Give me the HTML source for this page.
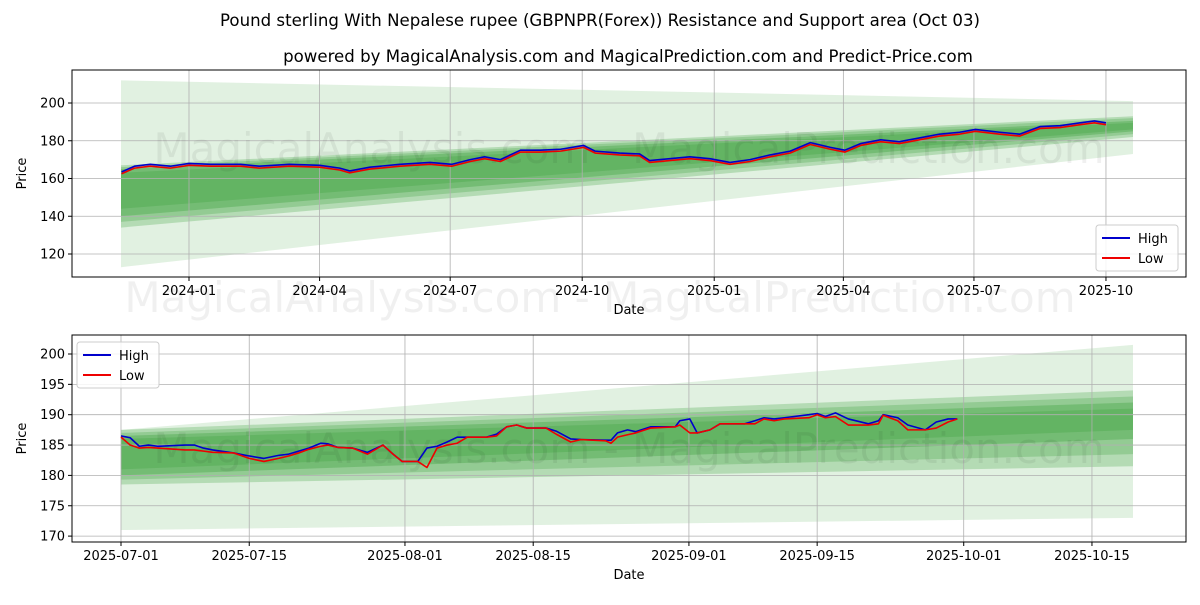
<!DOCTYPE html>
<html><head><meta charset="utf-8"><style>
body{margin:0;background:#fff;font-family:"Liberation Sans","DejaVu Sans",sans-serif;}
svg text{font-family:"DejaVu Sans","Liberation Sans",sans-serif;}
</style></head><body>
<svg id="c" width="1200" height="600" xmlns="http://www.w3.org/2000/svg">
<text x="600" y="26" text-anchor="middle" font-size="16.6">Pound sterling With Nepalese rupee (GBPNPR(Forex)) Resistance and Support area (Oct 03)</text>
<text x="628" y="62" text-anchor="middle" font-size="16.6">powered by MagicalAnalysis.com and MagicalPrediction.com and Predict-Price.com</text>
</svg>
<script>
// ---- Top chart data (days from 2024-01-01) ----
const topDays=[-47,-38,-27,-13,0,15,36,49,70,91,105,112,126,147,168,183,196,206,217,231,245,259,275,283,300,314,321,335,349,363,377,391,405,419,433,447,457,468,482,495,509,523,537,548,565,579,593,607,621,631,639];
const topHigh=[163.5,166.5,167.5,166.5,168,167.5,167.5,166.5,167.5,167,165.5,164,166,167.5,168.5,167.5,170,171.5,170,175,175,175.5,177.5,174.5,173.5,173,169.5,170.5,171.5,170.5,168.5,170,172.5,174.5,179,176.5,175,178.5,180.5,179.5,181.5,183.5,184.5,186,184.5,183.5,187.5,188,189.5,190.5,189.5];
const topLow=[162.5,165.5,166.5,165.5,167,166.5,166.5,165.5,166.5,166,164.5,163,165,166.5,167.5,166.5,169,170.5,169,174,174,174.5,176.5,173.5,172.5,172,168.5,169.5,170.5,169.5,167.5,169,171.5,173.5,178,175.5,174,177.5,179.5,178.5,180.5,182.5,183.5,185,183.5,182.5,186.5,187,188.5,189.5,188.5];
const topTicks=["2024-01","2024-04","2024-07","2024-10","2025-01","2025-04","2025-07","2025-10"];
const topTickDays=[0,91,182,274,366,456,547,639];
const topYTicks=[120,140,160,180,200];
// bands: [leftLow,leftHigh,rightLow,rightHigh,opacity]
const topBands=[[113,212,173,201,0.14],[134,167,182,193,0.25],[137,166,183.5,192,0.25],[140,165,185,190.5,0.3],[144,163,186,189.5,0.25]];
// ---- Bottom chart data (days from 2025-07-01) ----
const botDays=[0,1,2,3,4,7,8,9,10,12.3,14,15.6,17.2,18.3,19.4,20.5,21.8,22.6,23.7,25.3,26.9,28.6,29.7,30.7,32.4,33.4,34.5,35.6,36.7,37.8,39.9,41,42.1,43.2,44.3,46.4,47.5,49.1,50.2,52.9,53.5,54.2,55.3,56.2,57.8,60.5,61,62.1,62.9,64.3,65.4,68.1,69.2,70.2,71.3,72.4,75.1,76,76.9,78,79.4,81.6,82.7,83.2,84.8,85.9,87.8,89,90.3,91.3];
const botHigh=[186.5,186.2,184.8,185,184.8,185,185,184.5,184.2,183.7,183.2,182.8,183.3,183.5,184,184.5,185.3,185.2,184.6,184.5,183.8,185,183.5,182.3,182.3,184.5,184.8,185.5,186.3,186.3,186.3,186.8,188,188.3,187.8,187.8,187.3,186,185.9,185.8,185.8,187,187.5,187.2,188,188,189,189.3,187,187.5,188.5,188.5,189,189.5,189.3,189.5,190,190.2,189.7,190.3,189.3,188.5,189,190,189.5,188.3,187.5,188.8,189.3,189.3];
const botLow=[186.3,185,184.5,184.6,184.5,184.2,184.2,184,183.8,183.7,182.8,182.3,182.8,183.2,183.7,184.3,184.8,185,184.6,184.5,183.5,185,183.5,182.3,182.3,181.3,184.5,185,185.3,186.3,186.3,186.5,188,188.3,187.8,187.8,186.8,185.5,185.9,185.7,185.3,186.3,186.7,187,187.8,188,188.3,187,187,187.5,188.5,188.5,188.5,189.3,189,189.3,189.5,190,189.5,189.7,188.3,188.3,188.5,189.9,189,187.5,187.5,187.8,188.8,189.3];
const botTicks=["2025-07-01","2025-07-15","2025-08-01","2025-08-15","2025-09-01","2025-09-15","2025-10-01","2025-10-15"];
const botTickDays=[0,14,31,45,62,76,92,106];
const botYTicks=[170,175,180,185,190,195,200];
const botBands=[[171,187.5,173,201.5,0.14],[178.5,187.5,181.5,194,0.25],[179.3,187,183.5,193,0.25],[180,186.5,186,192,0.3],[181,186,187.5,191,0.25]];

const NS="http://www.w3.org/2000/svg",svg=document.getElementById('c');
function mk(t,a,p){const e=document.createElementNS(NS,t);for(const k in a)e.setAttribute(k,a[k]);(p||svg).appendChild(e);return e;}

function drawPanel(o){
  const g=mk('g',{});
  
  
  const X=d=>o.x0+d*o.xs, Y=v=>o.yTop+(o.yMax-v)*o.ys;
  o.bands.forEach(b=>{
    const p=mk('polygon',{points:`${o.bx0},${Y(b[1])} ${o.bx1},${Y(b[3])} ${o.bx1},${Y(b[2])} ${o.bx0},${Y(b[0])}`,fill:'#2e9a2e','fill-opacity':b[4]},g);
    
    
  });
  o.yt.forEach(v=>{
    const l=mk('line',{x1:o.L,x2:o.R,y1:Y(v),y2:Y(v),stroke:'#b0b0b0','stroke-width':0.8},g);
    
    
    mk('line',{x1:o.L-4,x2:o.L,y1:Y(v),y2:Y(v),stroke:'#000'},g);
    const t=mk('text',{x:o.L-7,y:Y(v)+4.5,'text-anchor':'end','font-size':13},g);t.textContent=v;
    
    
  });
  o.xtd.forEach((d,i)=>{
    const l=mk('line',{x1:X(d),x2:X(d),y1:o.T,y2:o.B,stroke:'#b0b0b0','stroke-width':0.8},g);
    
    
    mk('line',{x1:X(d),x2:X(d),y1:o.B,y2:o.B+4,stroke:'#000'},g);
    const t=mk('text',{x:X(d),y:o.B+18,'text-anchor':'middle','font-size':13},g);t.textContent=o.xt[i];
    
    
  });
  const w=mk('text',{x:(o.L+o.R)/2,y:o.wmY,'text-anchor':'middle','font-size':42,fill:'#000','fill-opacity':0.06},g);
  w.textContent='MagicalAnalysis.com - MagicalPrediction.com';
  
  
  [[o.hi,'#0000cc','high-line'],[o.lo,'#ee0000','low-line']].forEach(s=>{
    const pl=mk('polyline',{points:o.days.map((d,i)=>X(d)+','+Y(s[0][i])).join(' '),fill:'none',stroke:s[1],'stroke-width':1.6,'stroke-linejoin':'round'},g);
    
    
  });
  const f=mk('rect',{x:o.L,y:o.T,width:o.R-o.L,height:o.B-o.T,fill:'none',stroke:'#000','stroke-width':1},g);
  
  
  const xl=mk('text',{x:(o.L+o.R)/2,y:o.B+37,'text-anchor':'middle','font-size':13},g);xl.textContent='Date';
  
  
  const yl=mk('text',{x:0,y:0,'text-anchor':'middle','font-size':13,transform:`translate(26,${(o.T+o.B)/2}) rotate(-90)`},g);yl.textContent='Price';
  
  
  const lg=mk('g',{},g);
  
  
  mk('rect',{x:o.lgx,y:o.lgy,width:82,height:46,rx:3,fill:'#fff','fill-opacity':0.85,stroke:'#ccc'},lg);
  [['High','#0000cc'],['Low','#ee0000']].forEach((e,i)=>{
    const yy=o.lgy+13+i*20;
    mk('line',{x1:o.lgx+6,x2:o.lgx+34,y1:yy,y2:yy,stroke:e[1],'stroke-width':2},lg);
    const t=mk('text',{x:o.lgx+42,y:yy+5,'font-size':13},lg);t.textContent=e[0];
    
    
  });
}
drawPanel({name:'top-panel',L:72,R:1186,T:70,B:277,x0:189,xs:1.435,yTop:103,yMax:200,ys:1.8875,
  bx0:121,bx1:1133,bands:topBands,yt:topYTicks,xt:topTicks,xtd:topTickDays,days:topDays,hi:topHigh,lo:topLow,wmY:163,lgx:1096,lgy:225});
drawPanel({name:'bottom-panel',L:72,R:1186,T:335,B:542,x0:121,xs:9.16,yTop:354,yMax:200,ys:6.07,
  bx0:121,bx1:1133,bands:botBands,yt:botYTicks,xt:botTicks,xtd:botTickDays,days:botDays,hi:botHigh,lo:botLow,wmY:463,lgx:77,lgy:342});
const wm=mk('text',{x:600,y:312,'text-anchor':'middle','font-size':42,fill:'#000','fill-opacity':0.06});
wm.textContent='MagicalAnalysis.com - MagicalPrediction.com';


</script>
</body></html>
